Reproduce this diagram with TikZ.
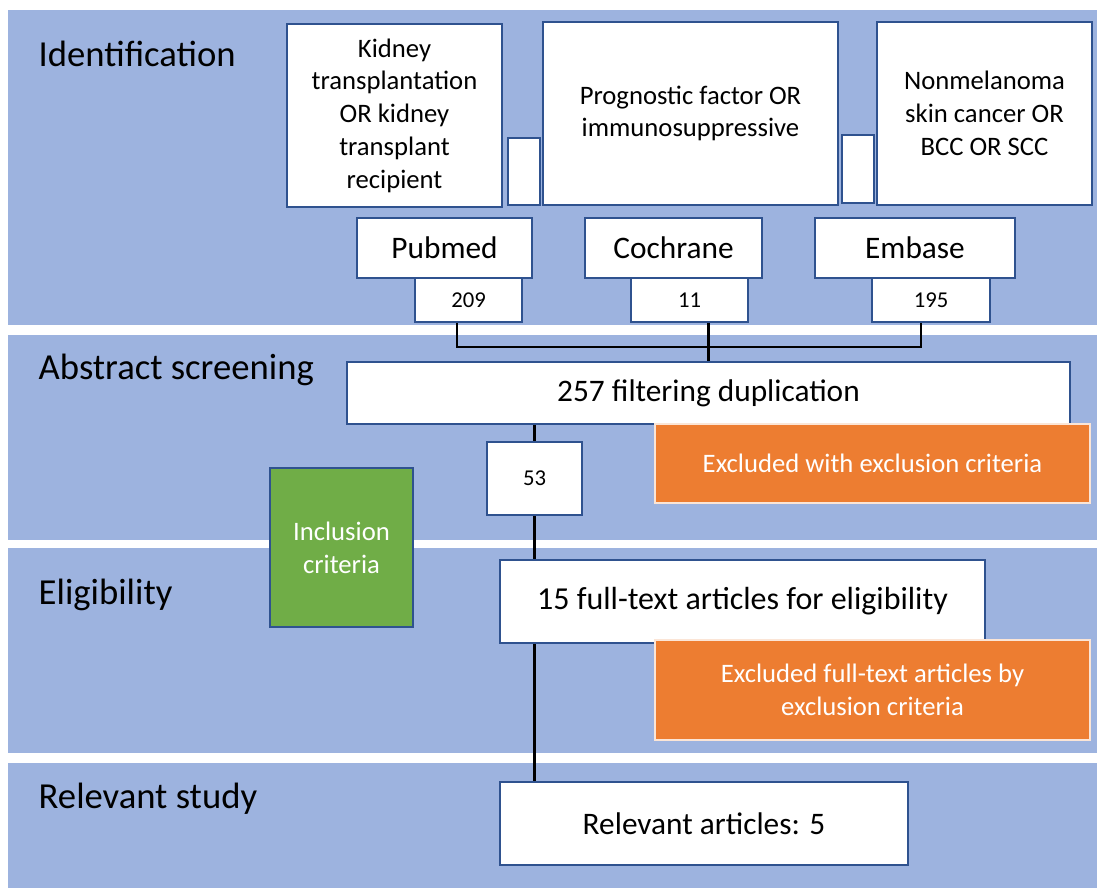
\documentclass[tikz,border=0pt]{standalone}
\usepackage{fontspec}
\setmainfont{Carlito}
\usepackage{xcolor}
\usetikzlibrary{positioning}

\definecolor{bandblue}{HTML}{9DB3DF}
\definecolor{edgeblue}{HTML}{2F528F}
\definecolor{exclorange}{HTML}{ED7D31}
\definecolor{inclgreen}{HTML}{70AD47}

\begin{document}
\begin{tikzpicture}[x=0.75pt, y=-0.75pt,
        wh/.style 2 args={minimum width=#1*0.75pt, minimum height=#2*0.75pt},
        stage/.style={anchor=base west, font=\fontsize{27.5}{33}\selectfont},
        whitebox/.style={
            rectangle, draw=edgeblue, fill=white, line width=1.5pt,
            inner sep=0pt, align=center
        },
        query/.style={whitebox, font=\fontsize{20}{24.6}\selectfont},
        source/.style={whitebox, font=\fontsize{23.5}{28}\selectfont},
        count/.style={whitebox, font=\fontsize{17}{20}\selectfont},
        result/.style={whitebox, font=\fontsize{24}{29}\selectfont},
        excluded/.style={
            rectangle, draw=white!80!exclorange, fill=exclorange, line width=1pt,
            text=white, inner sep=0pt, align=center,
            font=\fontsize{20}{24.6}\selectfont
        },
        included/.style={
            rectangle, draw=edgeblue, fill=inclgreen, line width=1.5pt,
            text=white, inner sep=0pt, align=center,
            font=\fontsize{20}{24.6}\selectfont
        },
        link/.style={line width=1.6pt, black}
    ]
        \useasboundingbox (0,0) rectangle (1097,890);
        \fill[white] (0,0) rectangle (1097,890);

        % stage bands
        \fill[bandblue] (8,10) rectangle (1097,325);
        \fill[bandblue] (8,335) rectangle (1097,540);
        \fill[bandblue] (8,548) rectangle (1097,753);
        \fill[bandblue] (8,763) rectangle (1097,888);

        \node[stage] (ident) at (34,66) {Identification};
        \node[stage] (screen) at (34,379) {Abstract screening};
        \node[stage] (elig) at (34,604) {Eligibility};
        \node[stage] (relstudy) at (34,808) {Relevant study};

        % search terms
        \node[query, wh={215}{183}] (kidney) at (394.5,115.5)
            {Kidney\\transplantation\\OR kidney\\transplant\\recipient};
        \node[whitebox, wh={32}{67}] (gapa) at (524,171.5) {};
        \node[query, wh={295}{183}] (prognostic) at (690.5,113.5)
            {Prognostic factor OR\\immunosuppressive};
        \node[whitebox, wh={32}{68}] (gapb) at (858,169) {};
        \node[query, wh={215}{183}] (nmsc) at (984.5,113.5)
            {Nonmelanoma\\skin cancer OR\\BCC OR SCC};

        % databases
        \node[source, wh={175}{60}] (pubmed) at (444.5,248) {Pubmed};
        \node[source, wh={177}{60}] (cochrane) at (673.5,248) {Cochrane};
        \node[source, wh={200}{60}] (embase) at (915,248) {Embase};

        \node[count, wh={107}{44}] (n209) at (468.5,300) {209};
        \node[count, wh={117}{44}] (n11) at (689.5,300) {11};
        \node[count, wh={118}{44}] (n195) at (931,300) {195};

        % screening
        \node[source, wh={723}{62}] (dedup) at (708.5,393) {257 filtering duplication};
        \node[excluded, wh={435}{79}] (exclabs) at (872.5,463.5) {Excluded with exclusion criteria};
        \node[count, wh={95}{73}] (n53) at (534.5,478.5) {53};
        \node[included, wh={143}{159}] (incl) at (341.5,547.5) {Inclusion\\criteria};

        % eligibility
        \node[result, wh={485}{83}] (fulltext) at (742.5,601.5) {15 full-text articles for eligibility};
        \node[excluded, wh={435}{100}] (exclfull) at (872.5,690)
            {Excluded full-text articles by\\exclusion criteria};

        % relevant
        \node[source, wh={408}{83}] (relevant) at (704,823.5) {Relevant articles: 5};

        \coordinate (mergel) at (457,347);
        \coordinate (merger) at (921,347);

        \draw[link] (n209.south -| mergel) -- (mergel) -- (merger) -- (n195.south -| merger);
        \draw[link] (n11.south -| dedup.north) -- (dedup.north);
        \draw[link] (dedup.south -| n53) -- (n53);
        \draw[link] (n53) -- (n53 |- fulltext.north);
        \draw[link] (n53 |- fulltext.south) -- (n53 |- relevant.north);
    \end{tikzpicture}
\end{document}
